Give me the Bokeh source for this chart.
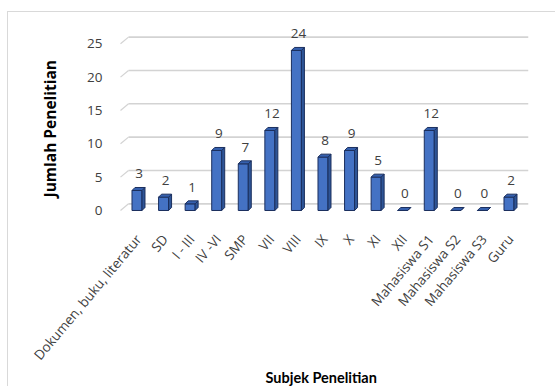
import math
from bokeh.plotting import figure
from bokeh.models import (ColumnDataSource, FixedTicker, CustomJSTickFormatter, Range1d,
                          LabelSet, Title)
from bokeh.core.properties import value
from bokeh.embed import file_html
from bokeh.resources import INLINE

# ---- data ----
categories = ["Dokumen, buku, literatur", "SD", "I - III", "IV -VI", "SMP", "VII", "VIII",
              "IX", "X", "XI", "XII", "Mahasiswa S1", "Mahasiswa S2", "Mahasiswa S3", "Guru"]
counts = [3, 2, 1, 9, 7, 12, 24, 8, 9, 5, 0, 12, 0, 0, 2]
y_ticks = [0, 5, 10, 15, 20, 25]

# ---- style constants ----
FRONT = "#4472C4"
SIDE = "#2E5597"
TOP = "#3560AE"
EDGE = "#1B2F5E"
GRID = "#d3d3d3"
PX_X = 26.57             # pixels per category unit
PX_Y = 6.67              # pixels per value unit
X0, X1 = -0.215, 15.178  # x range
half_l = 6.5 / PX_X
half_r = 3.5 / PX_X
dx = 3.0 / PX_X
dy = 3.0 / PX_Y
wall_x = X0 + 9 / PX_X    # back wall left edge
stub_x = X0 + 1 / PX_X    # front edge of floor/wall stubs
depth = 1.0               # back wall lift in value units

centers = [i + 0.5 for i in range(len(categories))]
left = [c - half_l for c in centers]
right = [c + half_r for c in centers]

top_xs, top_ys, side_xs, side_ys = [], [], [], []
for l, r, v in zip(left, right, counts):
    top_xs.append([l, r, r + dx, l + dx])
    top_ys.append([v, v, v + dy, v + dy])
    side_xs.append([r, r + dx, r + dx, r])
    side_ys.append([0, dy, v + dy, v])

src = ColumnDataSource(dict(x=centers, left=left, right=right, top=counts,
                            lab=[str(v) for v in counts],
                            lx=[c + 0.02 for c in centers]))

p = figure(width=548, height=375, output_backend="svg", toolbar_location=None,
           x_range=Range1d(X0, X1), y_range=Range1d(-1.2, 28.49),
           min_border_left=111, min_border_right=28, min_border_top=8, min_border_bottom=169,
           background_fill_color="white", border_fill_color="white")
p.margin = (11, 0, 0, 7)
p.styles = {"border-top": "1px solid #d9d9d9", "border-left": "1px solid #d9d9d9"}
p.outline_line_color = None
p.xgrid.visible = False
p.ygrid.visible = False

# back wall gridlines with the 3D side stubs
p.segment(x0=[wall_x] * len(y_ticks), y0=[t + depth for t in y_ticks],
          x1=[X1] * len(y_ticks), y1=[t + depth for t in y_ticks],
          line_color=GRID, line_width=1.6)
p.segment(x0=[stub_x] * len(y_ticks), y0=y_ticks,
          x1=[wall_x] * len(y_ticks), y1=[t + depth for t in y_ticks],
          line_color=GRID, line_width=1.2)

# bars
p.quad(left="left", right="right", bottom=0, top="top", source=src,
       fill_color=FRONT, line_color=EDGE, line_width=1)
p.patches(side_xs, side_ys, fill_color=SIDE, line_color=EDGE, line_width=1)
p.patches(top_xs, top_ys, fill_color=TOP, line_color=EDGE, line_width=1)

labels = LabelSet(x="lx", y="top", text="lab", source=src, text_align="center",
                  text_baseline="bottom", y_offset=12, text_font=value("Open Sans"),
                  text_font_size=value("13.5px"), text_color="#404040")
p.add_layout(labels)

# axes
p.xaxis.ticker = FixedTicker(ticks=centers)
p.xaxis.formatter = CustomJSTickFormatter(args=dict(labels=categories),
                                          code="return labels[Math.floor(tick)] || '';")
p.xaxis.major_label_orientation = math.radians(50)
p.xaxis.major_label_text_font = "Open Sans"
p.xaxis.major_label_text_font_size = "13.5px"
p.xaxis.major_label_text_color = "#404040"
p.xaxis.major_label_standoff = 12
p.xaxis.axis_line_color = None
p.xaxis.major_tick_line_color = None
p.xaxis.minor_tick_line_color = None

p.yaxis.ticker = FixedTicker(ticks=y_ticks)
p.yaxis.major_label_text_font = "Open Sans"
p.yaxis.major_label_text_font_size = "13.5px"
p.yaxis.major_label_text_color = "#404040"
p.yaxis.major_label_standoff = 11
p.yaxis.axis_line_color = None
p.yaxis.major_tick_line_color = None
p.yaxis.minor_tick_line_color = None

ytitle = Title(text="Jumlah Penelitian", align="left", offset=21, standoff=47,
               text_font="Open Sans", text_font_style="bold", text_font_size="15.5px",
               text_color="#000000")
p.add_layout(ytitle, "left")

xtitle = Title(text="Subjek Penelitian", align="left", offset=146, standoff=-12,
               text_font="Lato", text_font_style="bold", text_font_size="14.5px",
               text_color="#000000")
p.add_layout(xtitle, "below")

open("out.html", "w").write(file_html(p, INLINE))
